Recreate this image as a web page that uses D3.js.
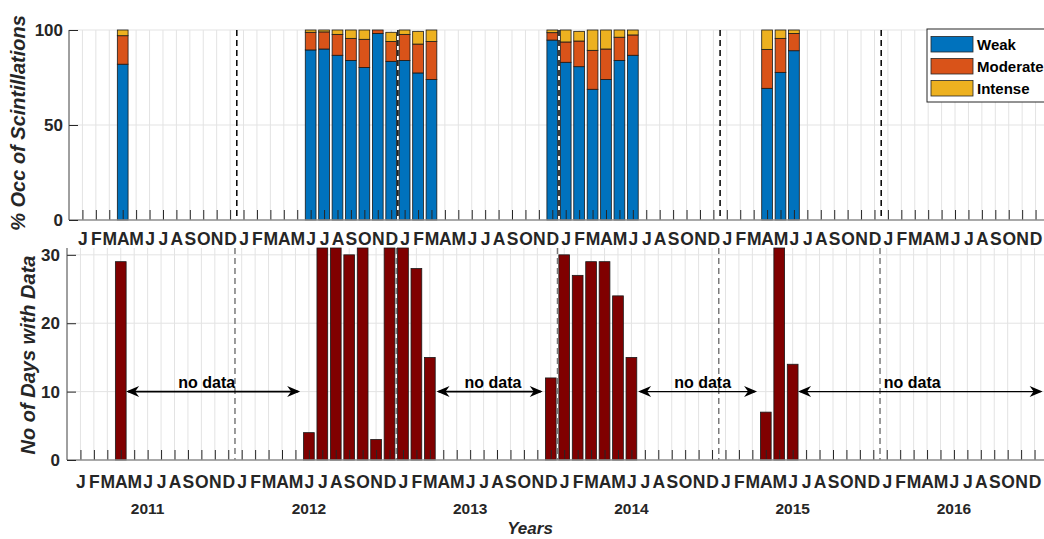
<!DOCTYPE html>
<html>
<head>
<meta charset="utf-8">
<script src="https://cdn.jsdelivr.net/npm/d3@7"></script>
<style>
  body { margin: 0; background: #fff; }
  svg { display: block; font-family: "Liberation Sans", Arial, Helvetica, sans-serif; }
  .tick line { stroke: #262626; }
  .domain { stroke: none; }
</style>
</head>
<body>
<svg id="chart" width="1044" height="539"></svg>
<script>
// month slots: 0 = Jan 2011 ... 71 = Dec 2016
const monthLetters = ["J", "F", "M", "A", "M", "J", "J", "A", "S", "O", "N", "D"];
const yearLabels = ["2011", "2012", "2013", "2014", "2015", "2016"];

// % occurrence of scintillations (stacked)
const scintMonth = [3, 17, 18, 19, 20, 21, 22, 23, 24, 25, 26, 35, 36, 37, 38, 39, 40, 41, 51, 52, 53];
const weak     = [82, 89.5, 90, 86.7, 84, 80.3, 98.2, 83.5, 84, 77.4, 74, 94.7, 83, 80.7, 68.8, 74, 84, 86.7, 69.3, 77.7, 89.1];
const moderate = [15, 9.3, 9, 11, 11.6, 14.8, 1.8, 10.4, 13.7, 15.2, 19.9, 3.9, 10.7, 13.5, 20.5, 16, 12.2, 10.7, 20.5, 17.9, 9.1];
const intense  = [3, 1.2, 1, 2.3, 4.4, 4.9, 0, 4.9, 2.3, 6.7, 6.1, 1.4, 6.3, 5.1, 10.7, 10, 3.8, 2.6, 10.2, 4.4, 1.8];

// number of days with data
const dayMonth = [3, 17, 18, 19, 20, 21, 22, 23, 24, 25, 26, 35, 36, 37, 38, 39, 40, 41, 51, 52, 53];
const days     = [29, 4, 31, 31, 30, 31, 3, 31, 31, 28, 15, 12, 30, 27, 29, 29, 24, 15, 7, 31, 14];

// "no data" gaps (month slot from, to, label position)
const gapFrom  = [3.4, 26.5, 41.5, 53.4];
const gapTo    = [16.35, 34.4, 50.35, 71.6];
const gapLabel = [9.4, 30.7, 46.3, 61.9];

const yearBreaks = [11.5, 23.5, 35.5, 47.5, 59.5];
const seriesNames = ["Weak", "Moderate", "Intense"];
const seriesColors = ["#0072BD", "#D95319", "#EDB120"];

const svg = d3.select("#chart");
const months = d3.range(72);

const xTop = d3.scaleLinear().domain([-1, 72]).range([69, 1049]);
const yTop = d3.scaleLinear().domain([0, 100]).range([220, 30]);
const xBot = d3.scaleLinear().domain([-1, 72]).range([67, 1048]);
const yBot = d3.scaleLinear().domain([0, 31]).range([460, 248]);

function panel(x, y, yTicks) {
    const g = svg.append("g");
    const [y0, y1] = y.range();
    const [x0, x1] = x.range();

    // grid
    g.append("g").selectAll("line").data(months).join("line")
        .attr("x1", d => x(d)).attr("x2", d => x(d))
        .attr("y1", y1).attr("y2", y0)
        .attr("stroke", "#e3e3e3").attr("stroke-width", 1);
    g.append("g").selectAll("line").data(yTicks.slice(1)).join("line")
        .attr("x1", x0).attr("x2", x1)
        .attr("y1", d => y(d)).attr("y2", d => y(d))
        .attr("stroke", "#e3e3e3").attr("stroke-width", 1);
    return g;
}

function axes(g, x, y, yTicks, labelPad, yPad) {
    const [y0, y1] = y.range();
    const [x0, x1] = x.range();
    const xa = g.append("g").attr("transform", `translate(0,${y0})`)
        .call(d3.axisBottom(x).tickValues(months).tickSize(-10).tickPadding(labelPad)
            .tickFormat(d => monthLetters[d % 12]));
    xa.selectAll("text").attr("font-size", 17.5).attr("font-weight", "bold").attr("fill", "#262626");
    xa.selectAll(".tick line").attr("stroke", "#404040");
    g.append("line").attr("x1", x0).attr("x2", x1).attr("y1", y0).attr("y2", y0)
        .attr("stroke", "#8c8c8c").attr("stroke-width", 1.5);

    const ya = g.append("g").attr("transform", `translate(${x0},0)`)
        .call(d3.axisLeft(y).tickValues(yTicks).tickSize(-9).tickPadding(yPad));
    ya.selectAll("text").attr("font-size", 17).attr("font-weight", "bold").attr("fill", "#262626");
    ya.selectAll(".tick line").attr("stroke", "#404040");
    g.append("line").attr("x1", x0).attr("x2", x0).attr("y1", y1).attr("y2", y0)
        .attr("stroke", "#404040").attr("stroke-width", 1);
}

// ---------- top panel ----------
const gTop = panel(xTop, yTop, [0, 50, 100]);
const barW = (xTop(1) - xTop(0)) * 0.8;

const stackRows = scintMonth.map((m, i) => ({ m: m, Weak: weak[i], Moderate: moderate[i], Intense: intense[i] }));
const stacked = d3.stack().keys(seriesNames)(stackRows);

gTop.append("g").selectAll("g").data(stacked).join("g")
    .attr("fill", (d, i) => seriesColors[i])
    .selectAll("rect").data(d => d).join("rect")
    .attr("x", d => xTop(d.data.m) - barW / 2)
    .attr("width", barW)
    .attr("y", d => yTop(d[1]))
    .attr("height", d => yTop(d[0]) - yTop(d[1]))
    .attr("stroke", "#1a1a1a").attr("stroke-width", 0.8);

gTop.append("g").selectAll("line").data(yearBreaks).join("line")
    .attr("x1", d => xTop(d)).attr("x2", d => xTop(d))
    .attr("y1", yTop(100)).attr("y2", yTop(0))
    .attr("stroke", "#000").attr("stroke-width", 1.5).attr("stroke-dasharray", "6,4");

axes(gTop, xTop, yTop, [0, 50, 100], 13, 6);

// legend
const lg = svg.append("g").attr("transform", "translate(927,29)");
lg.append("rect").attr("width", 130).attr("height", 73)
    .attr("fill", "#fff").attr("stroke", "#262626").attr("stroke-width", 1);
seriesNames.forEach((name, i) => {
    lg.append("rect").attr("x", 4).attr("y", 7.5 + i * 22).attr("width", 42).attr("height", 15.5)
        .attr("fill", seriesColors[i]).attr("stroke", "#262626").attr("stroke-width", 0.8);
    lg.append("text").attr("x", 50).attr("y", 21 + i * 22)
        .attr("font-size", 15).attr("font-weight", "bold").attr("fill", "#000").text(name);
});

// ---------- bottom panel ----------
const gBot = panel(xBot, yBot, [0, 10, 20, 30]);

gBot.append("g").selectAll("rect").data(days).join("rect")
    .attr("x", (d, i) => xBot(dayMonth[i]) - barW / 2)
    .attr("width", barW)
    .attr("y", d => yBot(d))
    .attr("height", d => yBot(0) - yBot(d))
    .attr("fill", "#800000").attr("stroke", "#1a1a1a").attr("stroke-width", 0.8);

gBot.append("g").selectAll("line").data(yearBreaks).join("line")
    .attr("x1", d => xBot(d)).attr("x2", d => xBot(d))
    .attr("y1", yBot(31)).attr("y2", yBot(0))
    .attr("stroke", "#7a7a7a").attr("stroke-width", 1.5).attr("stroke-dasharray", "6,4");

axes(gBot, xBot, yBot, [0, 10, 20, 30], 16, 7);

// no-data arrows
const head = "M0,0 L-13,-5.5 L-9,0 L-13,5.5 Z";
gapFrom.forEach((f, i) => {
    const ya = yBot(10), xa = xBot(f), xb = xBot(gapTo[i]);
    const w = i < 2 ? 1.8 : 1.2;
    gBot.append("line").attr("x1", xa + 2).attr("x2", xb - 2).attr("y1", ya).attr("y2", ya)
        .attr("stroke", "#000").attr("stroke-width", w);
    gBot.append("path").attr("d", head).attr("fill", "#000")
        .attr("transform", `translate(${xa},${ya}) rotate(180)`);
    gBot.append("path").attr("d", head).attr("fill", "#000")
        .attr("transform", `translate(${xb},${ya})`);
    gBot.append("text").attr("x", xBot(gapLabel[i])).attr("y", ya - 3.5)
        .attr("text-anchor", "middle").attr("font-size", 16).attr("font-weight", "bold")
        .attr("fill", "#000").text("no data");
});

// year labels
svg.append("g").selectAll("text").data(yearLabels).join("text")
    .attr("x", (d, i) => xBot(5 + i * 12)).attr("y", 514)
    .attr("text-anchor", "middle").attr("font-size", 15.5).attr("font-weight", "bold")
    .attr("fill", "#262626").text(d => d);

// axis titles
svg.append("text").attr("x", 530).attr("y", 534).attr("text-anchor", "middle")
    .attr("font-size", 17).attr("font-weight", "bold").attr("font-style", "italic")
    .attr("fill", "#262626").text("Years");
svg.append("text").attr("transform", "translate(25,123) rotate(-90)").attr("text-anchor", "middle")
    .attr("font-size", 20).attr("font-weight", "bold").attr("font-style", "italic")
    .attr("fill", "#262626").text("% Occ of Scintillations");
svg.append("text").attr("transform", "translate(35,355) rotate(-90)").attr("text-anchor", "middle")
    .attr("font-size", 20).attr("font-weight", "bold").attr("font-style", "italic")
    .attr("fill", "#262626").text("No of Days with Data");
</script>
</body>
</html>
